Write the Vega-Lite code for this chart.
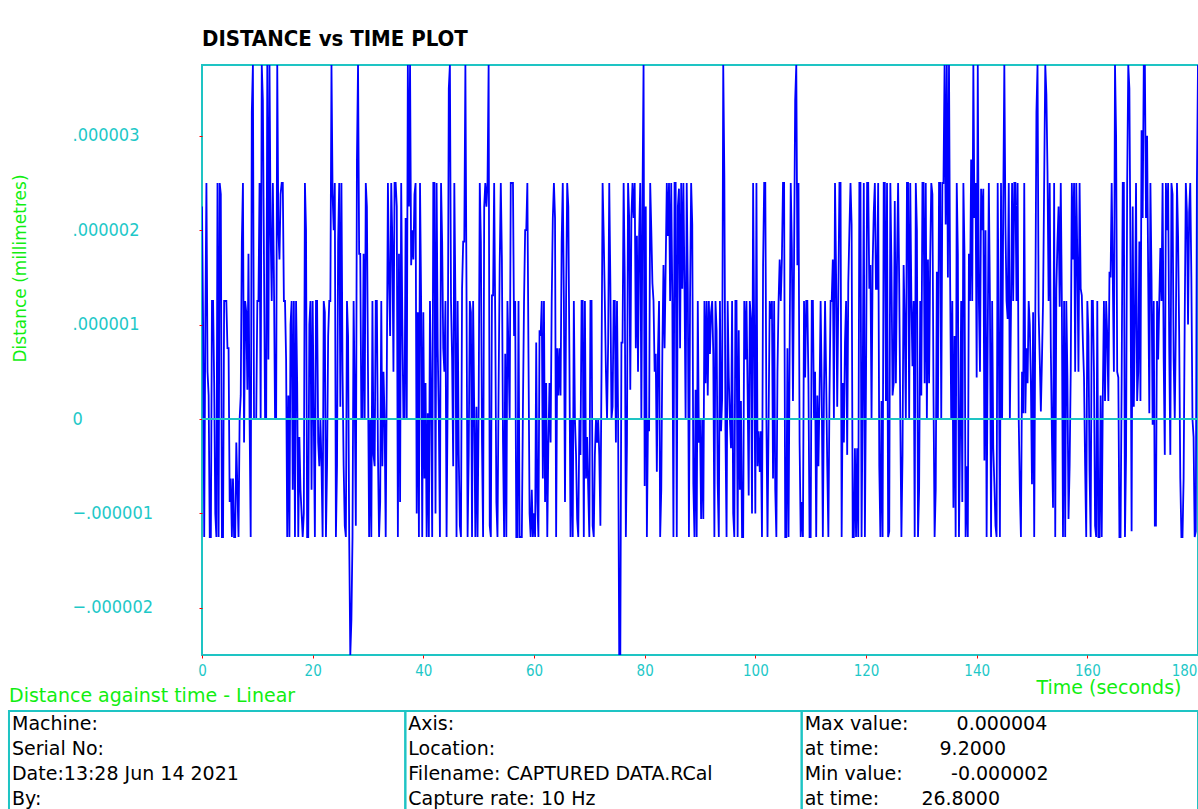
{
"$schema": "https://vega.github.io/schema/vega-lite/v6.json",
"background": "white",
"padding": {"left": 7, "top": 27, "right": 0, "bottom": 0},
"spacing": -11,
"config": {"view": {"stroke": null}, "font": "DejaVu Sans"},
"datasets": {"dist": [
{"t":0,"d":2.25e-6},{"t":0.2,"d":1e-6},{"t":0.4,"d":-1.25e-6},{"t":0.6,"d":1e-6},{"t":0.8,"d":2.5e-6},
{"t":1,"d":5e-7},{"t":1.2,"d":2.5e-7},{"t":1.4,"d":-1.25e-6},{"t":1.6,"d":-1.25e-6},{"t":1.8,"d":1.25e-6},
{"t":2,"d":1.25e-6},{"t":2.2,"d":3.8e-7},{"t":2.4,"d":-1e-6},{"t":2.6,"d":-1.25e-6},{"t":2.8,"d":2.5e-6},
{"t":3,"d":-1.25e-6},{"t":3.2,"d":2.5e-6},{"t":3.4,"d":2.38e-6},{"t":3.6,"d":-1.25e-6},{"t":3.8,"d":-1.25e-6},
{"t":4,"d":1.25e-6},{"t":4.2,"d":1.25e-6},{"t":4.4,"d":1.25e-6},{"t":4.6,"d":7.5e-7},{"t":4.8,"d":7.5e-7},
{"t":5,"d":-8.8e-7},{"t":5.2,"d":-6.3e-7},{"t":5.4,"d":-1.25e-6},{"t":5.6,"d":-6.3e-7},{"t":5.8,"d":-1.25e-6},
{"t":6,"d":-1.25e-6},{"t":6.2,"d":-2.5e-7},{"t":6.4,"d":-7.5e-7},{"t":6.6,"d":-1.25e-6},{"t":6.8,"d":0},
{"t":7,"d":2.5e-7},{"t":7.2,"d":1.88e-6},{"t":7.4,"d":2.5e-6},{"t":7.6,"d":-2.5e-7},{"t":7.8,"d":1.25e-6},
{"t":8,"d":1.13e-6},{"t":8.2,"d":3.1e-7},{"t":8.4,"d":1.75e-6},{"t":8.6,"d":0},{"t":8.8,"d":-1.25e-6},
{"t":9,"d":3.25e-6},{"t":9.2,"d":3.75e-6},{"t":9.4,"d":0},{"t":9.6,"d":0},{"t":9.8,"d":0},
{"t":10,"d":1.25e-6},{"t":10.2,"d":1.25e-6},{"t":10.4,"d":2.5e-6},{"t":10.6,"d":0},{"t":10.8,"d":3.75e-6},
{"t":11,"d":3.38e-6},{"t":11.2,"d":1.69e-6},{"t":11.4,"d":0},{"t":11.6,"d":0},{"t":11.8,"d":3.75e-6},
{"t":12,"d":6.3e-7},{"t":12.2,"d":3.75e-6},{"t":12.4,"d":2e-6},{"t":12.6,"d":1.25e-6},{"t":12.8,"d":2.5e-6},
{"t":13,"d":1.5e-6},{"t":13.2,"d":0},{"t":13.4,"d":0},{"t":13.6,"d":3.75e-6},{"t":13.8,"d":2e-6},
{"t":14,"d":1.69e-6},{"t":14.2,"d":2.38e-6},{"t":14.4,"d":2.5e-6},{"t":14.6,"d":2.5e-6},{"t":14.8,"d":1.25e-6},
{"t":15,"d":1.25e-6},{"t":15.2,"d":6.3e-7},{"t":15.4,"d":-1.25e-6},{"t":15.6,"d":2.5e-7},{"t":15.8,"d":-1.25e-6},
{"t":16,"d":1e-6},{"t":16.2,"d":1.25e-6},{"t":16.4,"d":-7.5e-7},{"t":16.6,"d":1.25e-6},{"t":16.8,"d":-1.25e-6},
{"t":17,"d":1.25e-6},{"t":17.2,"d":3.8e-7},{"t":17.4,"d":-1.25e-6},{"t":17.6,"d":-1.9e-7},{"t":17.8,"d":-7.5e-7},
{"t":18,"d":-1e-6},{"t":18.2,"d":-1.25e-6},{"t":18.4,"d":-1e-6},{"t":18.6,"d":2.5e-6},{"t":18.8,"d":2e-6},
{"t":19,"d":-1.25e-6},{"t":19.2,"d":-1.25e-6},{"t":19.4,"d":1e-6},{"t":19.6,"d":1.25e-6},{"t":19.8,"d":-7.5e-7},
{"t":20,"d":1.25e-6},{"t":20.2,"d":0},{"t":20.4,"d":-1.25e-6},{"t":20.6,"d":1.25e-6},{"t":20.8,"d":1.25e-6},
{"t":21,"d":-2.5e-7},{"t":21.2,"d":-5e-7},{"t":21.4,"d":0},{"t":21.6,"d":-5e-7},{"t":21.8,"d":-1.25e-6},
{"t":22,"d":1.25e-6},{"t":22.2,"d":1.13e-6},{"t":22.4,"d":-1.25e-6},{"t":22.6,"d":-5e-7},{"t":22.8,"d":8.8e-7},
{"t":23,"d":1.25e-6},{"t":23.2,"d":1.25e-6},{"t":23.4,"d":3.75e-6},{"t":23.6,"d":2.38e-6},{"t":23.8,"d":2e-6},
{"t":24,"d":2.5e-6},{"t":24.2,"d":-1.25e-6},{"t":24.4,"d":-5e-7},{"t":24.6,"d":1.88e-6},{"t":24.8,"d":2.5e-6},
{"t":25,"d":1.3e-7},{"t":25.2,"d":2.5e-6},{"t":25.4,"d":5e-7},{"t":25.6,"d":-5e-7},{"t":25.8,"d":-1.13e-6},
{"t":26,"d":-1.25e-6},{"t":26.2,"d":1.25e-6},{"t":26.4,"d":8.8e-7},{"t":26.6,"d":-1.25e-6},{"t":26.8,"d":-2.5e-6},
{"t":27,"d":-2.13e-6},{"t":27.2,"d":-1.25e-6},{"t":27.4,"d":1.25e-6},{"t":27.6,"d":2.5e-7},{"t":27.8,"d":-1.13e-6},
{"t":28,"d":2.75e-6},{"t":28.2,"d":3.75e-6},{"t":28.4,"d":1.75e-6},{"t":28.6,"d":1.75e-6},{"t":28.8,"d":0},
{"t":29,"d":0},{"t":29.2,"d":1.75e-6},{"t":29.4,"d":0},{"t":29.6,"d":2.5e-6},{"t":29.8,"d":2.25e-6},
{"t":30,"d":5e-7},{"t":30.2,"d":-1.25e-6},{"t":30.4,"d":0},{"t":30.6,"d":-1.25e-6},{"t":30.8,"d":1.25e-6},
{"t":31,"d":-3.8e-7},{"t":31.2,"d":-5e-7},{"t":31.4,"d":1.25e-6},{"t":31.6,"d":1.25e-6},{"t":31.8,"d":-3.8e-7},
{"t":32,"d":-1.25e-6},{"t":32.2,"d":-8.8e-7},{"t":32.4,"d":1.25e-6},{"t":32.6,"d":-5e-7},{"t":32.8,"d":5e-7},
{"t":33,"d":0},{"t":33.2,"d":-1.25e-6},{"t":33.4,"d":5e-7},{"t":33.6,"d":2.5e-6},{"t":33.8,"d":1.5e-6},
{"t":34,"d":8.8e-7},{"t":34.2,"d":2.5e-6},{"t":34.4,"d":1.88e-6},{"t":34.6,"d":5e-7},{"t":34.8,"d":2.5e-6},
{"t":35,"d":2.5e-6},{"t":35.2,"d":2.25e-6},{"t":35.4,"d":-1.25e-6},{"t":35.6,"d":1.75e-6},{"t":35.8,"d":-8.8e-7},
{"t":36,"d":2.5e-6},{"t":36.2,"d":1.06e-6},{"t":36.4,"d":0},{"t":36.6,"d":0},{"t":36.8,"d":2.13e-6},
{"t":37,"d":0},{"t":37.2,"d":3.75e-6},{"t":37.4,"d":2.25e-6},{"t":37.6,"d":3.75e-6},{"t":37.8,"d":1.63e-6},
{"t":38,"d":2e-6},{"t":38.2,"d":1.69e-6},{"t":38.4,"d":2.38e-6},{"t":38.6,"d":2.5e-6},{"t":38.8,"d":-1e-6},
{"t":39,"d":1.13e-6},{"t":39.2,"d":-1.25e-6},{"t":39.4,"d":2.5e-6},{"t":39.6,"d":1.25e-6},{"t":39.8,"d":-1.25e-6},
{"t":40,"d":1.13e-6},{"t":40.2,"d":-6.3e-7},{"t":40.4,"d":3.8e-7},{"t":40.6,"d":-1.25e-6},{"t":40.8,"d":6e-8},
{"t":41,"d":-1.25e-6},{"t":41.2,"d":1.25e-6},{"t":41.4,"d":2.5e-7},{"t":41.6,"d":-1.25e-6},{"t":41.8,"d":2.5e-6},
{"t":42,"d":2.5e-6},{"t":42.2,"d":-1e-6},{"t":42.4,"d":2.5e-6},{"t":42.6,"d":7.5e-7},{"t":42.8,"d":0},
{"t":43,"d":-1.25e-6},{"t":43.2,"d":2.5e-6},{"t":43.4,"d":1.88e-6},{"t":43.6,"d":7.5e-7},{"t":43.8,"d":5e-7},
{"t":44,"d":1.25e-6},{"t":44.2,"d":-1.25e-6},{"t":44.4,"d":2.5e-7},{"t":44.6,"d":3.5e-6},{"t":44.8,"d":3.75e-6},
{"t":45,"d":1.25e-6},{"t":45.2,"d":6.3e-7},{"t":45.4,"d":-5e-7},{"t":45.6,"d":2.5e-6},{"t":45.8,"d":1.25e-6},
{"t":46,"d":-1.25e-6},{"t":46.2,"d":1.25e-6},{"t":46.4,"d":-3.8e-7},{"t":46.6,"d":-1.13e-6},{"t":46.8,"d":-1.25e-6},
{"t":47,"d":1.38e-6},{"t":47.2,"d":1.88e-6},{"t":47.4,"d":1.88e-6},{"t":47.6,"d":3.75e-6},{"t":47.8,"d":1.38e-6},
{"t":48,"d":-1.25e-6},{"t":48.2,"d":-3.8e-7},{"t":48.4,"d":1.25e-6},{"t":48.6,"d":1.13e-6},{"t":48.8,"d":-1.25e-6},
{"t":49,"d":1.25e-6},{"t":49.2,"d":6e-8},{"t":49.4,"d":-1.25e-6},{"t":49.6,"d":1.3e-7},{"t":49.8,"d":-1.25e-6},
{"t":50,"d":1.3e-7},{"t":50.2,"d":2.5e-6},{"t":50.4,"d":1.88e-6},{"t":50.6,"d":-2.5e-7},{"t":50.8,"d":-1.25e-6},
{"t":51,"d":2.25e-6},{"t":51.2,"d":2.5e-6},{"t":51.4,"d":2.25e-6},{"t":51.6,"d":2.5e-6},{"t":51.8,"d":3.75e-6},
{"t":52,"d":-1.13e-6},{"t":52.2,"d":-1.25e-6},{"t":52.4,"d":1.31e-6},{"t":52.6,"d":1.31e-6},{"t":52.8,"d":2.5e-6},
{"t":53,"d":1e-6},{"t":53.2,"d":-8.8e-7},{"t":53.4,"d":-1.25e-6},{"t":53.6,"d":3.1e-7},{"t":53.8,"d":1.63e-6},
{"t":54,"d":2.5e-6},{"t":54.2,"d":1.69e-6},{"t":54.4,"d":-2.5e-7},{"t":54.6,"d":-1.25e-6},{"t":54.8,"d":6.9e-7},
{"t":55,"d":-1.25e-6},{"t":55.2,"d":1.25e-6},{"t":55.4,"d":6.9e-7},{"t":55.6,"d":0},{"t":55.8,"d":2.5e-6},
{"t":56,"d":2.5e-6},{"t":56.2,"d":2.5e-6},{"t":56.4,"d":8.8e-7},{"t":56.6,"d":1.25e-6},{"t":56.8,"d":-1.25e-6},
{"t":57,"d":-1.25e-6},{"t":57.2,"d":1.25e-6},{"t":57.4,"d":-1.25e-6},{"t":57.6,"d":-1.25e-6},{"t":57.8,"d":-1.25e-6},
{"t":58,"d":1.3e-7},{"t":58.2,"d":1.25e-6},{"t":58.4,"d":2e-6},{"t":58.6,"d":2e-6},{"t":58.8,"d":2.5e-6},
{"t":59,"d":6.9e-7},{"t":59.2,"d":-1e-6},{"t":59.4,"d":-1.25e-6},{"t":59.6,"d":-7.5e-7},{"t":59.8,"d":-1.25e-6},
{"t":60,"d":-1e-6},{"t":60.2,"d":-1.25e-6},{"t":60.4,"d":8.1e-7},{"t":60.6,"d":-8.8e-7},{"t":60.8,"d":-1.25e-6},
{"t":61,"d":9.4e-7},{"t":61.2,"d":8.8e-7},{"t":61.4,"d":1.25e-6},{"t":61.6,"d":-6.3e-7},{"t":61.8,"d":1.25e-6},
{"t":62,"d":-8.8e-7},{"t":62.2,"d":3.8e-7},{"t":62.4,"d":-1.25e-6},{"t":62.6,"d":-2.5e-7},{"t":62.8,"d":3.8e-7},
{"t":63,"d":-2.5e-7},{"t":63.2,"d":1.25e-6},{"t":63.4,"d":2.13e-6},{"t":63.6,"d":2.5e-6},{"t":63.8,"d":2.13e-6},
{"t":64,"d":-1.25e-6},{"t":64.2,"d":7.5e-7},{"t":64.4,"d":2.5e-7},{"t":64.6,"d":7.5e-7},{"t":64.8,"d":2.5e-7},
{"t":65,"d":1.88e-6},{"t":65.2,"d":2.5e-6},{"t":65.4,"d":1.25e-6},{"t":65.6,"d":-8.8e-7},{"t":65.8,"d":1.25e-6},
{"t":66,"d":2.5e-6},{"t":66.2,"d":2.25e-6},{"t":66.4,"d":6.3e-7},{"t":66.6,"d":-1.25e-6},{"t":66.8,"d":0},
{"t":67,"d":-1.25e-6},{"t":67.2,"d":1.25e-6},{"t":67.4,"d":0},{"t":67.6,"d":-3.8e-7},{"t":67.8,"d":-1.06e-6},
{"t":68,"d":-1.25e-6},{"t":68.2,"d":0},{"t":68.4,"d":-3.8e-7},{"t":68.6,"d":1.25e-6},{"t":68.8,"d":1.25e-6},
{"t":69,"d":-1.25e-6},{"t":69.2,"d":1.25e-6},{"t":69.4,"d":-6.3e-7},{"t":69.6,"d":-1.9e-7},{"t":69.8,"d":-7.5e-7},
{"t":70,"d":-1.25e-6},{"t":70.2,"d":1.25e-6},{"t":70.4,"d":1.25e-6},{"t":70.6,"d":-1.13e-6},{"t":70.8,"d":-1.25e-6},
{"t":71,"d":-3.8e-7},{"t":71.2,"d":0},{"t":71.4,"d":-2.5e-7},{"t":71.6,"d":0},{"t":71.8,"d":-3.8e-7},
{"t":72,"d":-1.13e-6},{"t":72.2,"d":5e-7},{"t":72.4,"d":2.5e-6},{"t":72.6,"d":1.94e-6},{"t":72.8,"d":1.25e-6},
{"t":73,"d":5e-7},{"t":73.2,"d":0},{"t":73.4,"d":8.1e-7},{"t":73.6,"d":2.5e-6},{"t":73.8,"d":1.44e-6},
{"t":74,"d":0},{"t":74.2,"d":1.3e-7},{"t":74.4,"d":1.25e-6},{"t":74.6,"d":1.25e-6},{"t":74.8,"d":-2.5e-7},
{"t":75,"d":1.25e-6},{"t":75.2,"d":0},{"t":75.4,"d":-2.5e-6},{"t":75.6,"d":-2.5e-6},{"t":75.8,"d":8.1e-7},
{"t":76,"d":8.1e-7},{"t":76.2,"d":2.5e-6},{"t":76.4,"d":1.5e-6},{"t":76.6,"d":-1.25e-6},{"t":76.8,"d":-2.5e-7},
{"t":77,"d":2.5e-6},{"t":77.2,"d":2.13e-6},{"t":77.4,"d":3.1e-7},{"t":77.6,"d":2.13e-6},{"t":77.8,"d":2.5e-6},
{"t":78,"d":2.13e-6},{"t":78.2,"d":2.5e-6},{"t":78.4,"d":7.5e-7},{"t":78.6,"d":1.94e-6},{"t":78.8,"d":5e-7},
{"t":79,"d":1.94e-6},{"t":79.2,"d":2.5e-6},{"t":79.4,"d":0},{"t":79.6,"d":2.25e-6},{"t":79.8,"d":3.75e-6},
{"t":80,"d":-7.1e-7},{"t":80.2,"d":2.25e-6},{"t":80.4,"d":-1.25e-6},{"t":80.6,"d":0},{"t":80.8,"d":-1.3e-7},
{"t":81,"d":2.5e-6},{"t":81.2,"d":2e-6},{"t":81.4,"d":1.44e-6},{"t":81.6,"d":1.25e-6},{"t":81.8,"d":5e-7},
{"t":82,"d":6.9e-7},{"t":82.2,"d":-5.6e-7},{"t":82.4,"d":6.9e-7},{"t":82.6,"d":1.25e-6},{"t":82.8,"d":-1.25e-6},
{"t":83,"d":-7.5e-7},{"t":83.2,"d":7.5e-7},{"t":83.4,"d":1.63e-6},{"t":83.6,"d":7.5e-7},{"t":83.8,"d":1.63e-6},
{"t":84,"d":2.5e-6},{"t":84.2,"d":1.94e-6},{"t":84.4,"d":2.5e-6},{"t":84.6,"d":1.25e-6},{"t":84.8,"d":2.5e-6},
{"t":85,"d":1.25e-6},{"t":85.2,"d":-1.25e-6},{"t":85.4,"d":2.5e-6},{"t":85.6,"d":2.5e-6},{"t":85.8,"d":-1.25e-6},
{"t":86,"d":2.25e-6},{"t":86.2,"d":2.44e-6},{"t":86.4,"d":7.5e-7},{"t":86.6,"d":2.5e-6},{"t":86.8,"d":1.38e-6},
{"t":87,"d":2.5e-6},{"t":87.2,"d":1.38e-6},{"t":87.4,"d":0},{"t":87.6,"d":2.5e-6},{"t":87.8,"d":1.38e-6},
{"t":88,"d":-1.25e-6},{"t":88.2,"d":1.25e-6},{"t":88.4,"d":2.5e-6},{"t":88.6,"d":2.06e-6},{"t":88.8,"d":-6.9e-7},
{"t":89,"d":-1.25e-6},{"t":89.2,"d":3.1e-7},{"t":89.4,"d":-1.25e-6},{"t":89.6,"d":1.25e-6},{"t":89.8,"d":-2.5e-7},
{"t":90,"d":0},{"t":90.2,"d":-1.06e-6},{"t":90.4,"d":0},{"t":90.6,"d":-1.06e-6},{"t":90.8,"d":1.25e-6},
{"t":91,"d":3.8e-7},{"t":91.2,"d":1.25e-6},{"t":91.4,"d":2.5e-7},{"t":91.6,"d":1.25e-6},{"t":91.8,"d":6.9e-7},
{"t":92,"d":1.13e-6},{"t":92.2,"d":1.25e-6},{"t":92.4,"d":6.9e-7},{"t":92.6,"d":-1.25e-6},{"t":92.8,"d":1.25e-6},
{"t":93,"d":9.4e-7},{"t":93.2,"d":-6.9e-7},{"t":93.4,"d":-1.25e-6},{"t":93.6,"d":1.25e-6},{"t":93.8,"d":-1.3e-7},
{"t":94,"d":2.1e-7},{"t":94.2,"d":3.75e-6},{"t":94.4,"d":2.56e-6},{"t":94.6,"d":-1.3e-7},{"t":94.8,"d":-1.25e-6},
{"t":95,"d":1.25e-6},{"t":95.2,"d":4.4e-7},{"t":95.4,"d":0},{"t":95.6,"d":-3.1e-7},{"t":95.8,"d":1.25e-6},
{"t":96,"d":-1e-6},{"t":96.2,"d":-1.25e-6},{"t":96.4,"d":1.25e-6},{"t":96.6,"d":1.25e-6},{"t":96.8,"d":-1.25e-6},
{"t":97,"d":9.4e-7},{"t":97.2,"d":-7.5e-7},{"t":97.4,"d":1.9e-7},{"t":97.6,"d":-1.25e-6},{"t":97.8,"d":-1.25e-6},
{"t":98,"d":1.25e-6},{"t":98.2,"d":6.3e-7},{"t":98.4,"d":1.25e-6},{"t":98.6,"d":3.1e-7},{"t":98.8,"d":-8.1e-7},
{"t":99,"d":1.25e-6},{"t":99.2,"d":1.06e-6},{"t":99.4,"d":-1e-6},{"t":99.6,"d":2.5e-6},{"t":99.8,"d":8.8e-7},
{"t":100,"d":-1e-6},{"t":100.2,"d":2.5e-6},{"t":100.4,"d":-5e-7},{"t":100.6,"d":-1.3e-7},{"t":100.8,"d":-5.6e-7},
{"t":101,"d":-1.3e-7},{"t":101.2,"d":-1.25e-6},{"t":101.4,"d":1.63e-6},{"t":101.6,"d":2.5e-6},{"t":101.8,"d":2.5e-6},
{"t":102,"d":0},{"t":102.2,"d":-1.25e-6},{"t":102.4,"d":0},{"t":102.6,"d":1.25e-6},{"t":102.8,"d":1.06e-6},
{"t":103,"d":1.25e-6},{"t":103.2,"d":-6.3e-7},{"t":103.4,"d":1.25e-6},{"t":103.6,"d":-7.5e-7},{"t":103.8,"d":-1.25e-6},
{"t":104,"d":5e-7},{"t":104.2,"d":1.25e-6},{"t":104.4,"d":1.69e-6},{"t":104.6,"d":1.25e-6},{"t":104.8,"d":1.69e-6},
{"t":105,"d":2.5e-6},{"t":105.2,"d":2.5e-6},{"t":105.4,"d":-1.25e-6},{"t":105.6,"d":-1.25e-6},{"t":105.8,"d":7.5e-7},
{"t":106,"d":-1.25e-6},{"t":106.2,"d":7.5e-7},{"t":106.4,"d":2.5e-6},{"t":106.6,"d":1.81e-6},{"t":106.8,"d":1.9e-7},
{"t":107,"d":1.69e-6},{"t":107.2,"d":3.38e-6},{"t":107.4,"d":3.75e-6},{"t":107.6,"d":1.63e-6},{"t":107.8,"d":2.5e-6},
{"t":108,"d":-2.5e-7},{"t":108.2,"d":-1.25e-6},{"t":108.4,"d":-8.8e-7},{"t":108.6,"d":-1.25e-6},{"t":108.8,"d":1.25e-6},
{"t":109,"d":4.4e-7},{"t":109.2,"d":1.25e-6},{"t":109.4,"d":1.25e-6},{"t":109.6,"d":3.8e-7},{"t":109.8,"d":-1.25e-6},
{"t":110,"d":-1.25e-6},{"t":110.2,"d":1.25e-6},{"t":110.4,"d":1.25e-6},{"t":110.6,"d":0},{"t":110.8,"d":5e-7},
{"t":111,"d":-1.25e-6},{"t":111.2,"d":2.5e-7},{"t":111.4,"d":-5e-7},{"t":111.6,"d":2.5e-7},{"t":111.8,"d":1.25e-6},
{"t":112,"d":3.1e-7},{"t":112.2,"d":-1.25e-6},{"t":112.4,"d":2.5e-7},{"t":112.6,"d":1.25e-6},{"t":112.8,"d":4.4e-7},
{"t":113,"d":-5e-7},{"t":113.2,"d":-1.25e-6},{"t":113.4,"d":2.5e-7},{"t":113.6,"d":1.25e-6},{"t":113.8,"d":1.25e-6},
{"t":114,"d":1.69e-6},{"t":114.2,"d":0},{"t":114.4,"d":2.5e-6},{"t":114.6,"d":1.5e-6},{"t":114.8,"d":1.3e-7},
{"t":115,"d":1.31e-6},{"t":115.2,"d":2.5e-6},{"t":115.4,"d":2.5e-6},{"t":115.6,"d":-1.25e-6},{"t":115.8,"d":3.8e-7},
{"t":116,"d":-2.5e-7},{"t":116.2,"d":8.1e-7},{"t":116.4,"d":1.25e-6},{"t":116.6,"d":-3.8e-7},{"t":116.8,"d":1.44e-6},
{"t":117,"d":2e-6},{"t":117.2,"d":2.5e-6},{"t":117.4,"d":2.06e-6},{"t":117.6,"d":-1.25e-6},{"t":117.8,"d":-1.25e-6},
{"t":118,"d":-3.1e-7},{"t":118.2,"d":-1.25e-6},{"t":118.4,"d":-3.1e-7},{"t":118.6,"d":-1.25e-6},{"t":118.8,"d":2.5e-6},
{"t":119,"d":2.5e-6},{"t":119.2,"d":-1.25e-6},{"t":119.4,"d":2.5e-7},{"t":119.6,"d":2.5e-6},{"t":119.8,"d":-1.25e-6},
{"t":120,"d":3.8e-7},{"t":120.2,"d":2.5e-6},{"t":120.4,"d":2.5e-6},{"t":120.6,"d":1.38e-6},{"t":120.8,"d":1.63e-6},
{"t":121,"d":0},{"t":121.2,"d":1.63e-6},{"t":121.4,"d":2.19e-6},{"t":121.6,"d":2.5e-6},{"t":121.8,"d":1.38e-6},
{"t":122,"d":1.38e-6},{"t":122.2,"d":2.5e-6},{"t":122.4,"d":-5e-7},{"t":122.6,"d":-1.25e-6},{"t":122.8,"d":1.9e-7},
{"t":123,"d":-1.25e-6},{"t":123.2,"d":2.5e-6},{"t":123.4,"d":2.5e-6},{"t":123.6,"d":1.9e-7},{"t":123.8,"d":2.5e-6},
{"t":124,"d":-1.25e-6},{"t":124.2,"d":-1.19e-6},{"t":124.4,"d":2.5e-6},{"t":124.6,"d":1.63e-6},{"t":124.8,"d":2.5e-7},
{"t":125,"d":3.8e-7},{"t":125.2,"d":2.31e-6},{"t":125.4,"d":3.8e-7},{"t":125.6,"d":1.63e-6},{"t":125.8,"d":2.5e-6},
{"t":126,"d":1.44e-6},{"t":126.2,"d":0},{"t":126.4,"d":-1.25e-6},{"t":126.6,"d":-3.8e-7},{"t":126.8,"d":1.63e-6},
{"t":127,"d":1e-6},{"t":127.2,"d":0},{"t":127.4,"d":2.5e-6},{"t":127.6,"d":2.5e-6},{"t":127.8,"d":0},
{"t":128,"d":2.5e-6},{"t":128.2,"d":1.25e-6},{"t":128.4,"d":5.6e-7},{"t":128.6,"d":1.25e-6},{"t":128.8,"d":-1.25e-6},
{"t":129,"d":2.5e-6},{"t":129.2,"d":2e-6},{"t":129.4,"d":-1.25e-6},{"t":129.6,"d":-7.5e-7},{"t":129.8,"d":1.25e-6},
{"t":130,"d":2.5e-7},{"t":130.2,"d":2.5e-6},{"t":130.4,"d":2.5e-6},{"t":130.6,"d":3.8e-7},{"t":130.8,"d":2.5e-6},
{"t":131,"d":0},{"t":131.2,"d":1.69e-6},{"t":131.4,"d":3.8e-7},{"t":131.6,"d":1.69e-6},{"t":131.8,"d":2.5e-6},
{"t":132,"d":2.38e-6},{"t":132.2,"d":2.5e-7},{"t":132.4,"d":-1.25e-6},{"t":132.6,"d":-7.5e-7},{"t":132.8,"d":1.56e-6},
{"t":133,"d":0},{"t":133.2,"d":2.5e-6},{"t":133.4,"d":2.5e-6},{"t":133.6,"d":0},{"t":133.8,"d":2.5e-6},
{"t":134,"d":2.5e-6},{"t":134.2,"d":3.75e-6},{"t":134.4,"d":2.06e-6},{"t":134.6,"d":3.75e-6},{"t":134.8,"d":1.5e-6},
{"t":135,"d":3.75e-6},{"t":135.2,"d":1.5e-6},{"t":135.4,"d":0},{"t":135.6,"d":1.25e-6},{"t":135.8,"d":-9.4e-7},
{"t":136,"d":8.8e-7},{"t":136.2,"d":-1.25e-6},{"t":136.4,"d":2.5e-6},{"t":136.6,"d":1.75e-6},{"t":136.8,"d":-1.25e-6},
{"t":137,"d":-1.9e-7},{"t":137.2,"d":1.25e-6},{"t":137.4,"d":-8.8e-7},{"t":137.6,"d":2.5e-6},{"t":137.8,"d":1.75e-6},
{"t":138,"d":-1.25e-6},{"t":138.2,"d":-5e-7},{"t":138.4,"d":-1.25e-6},{"t":138.6,"d":1.75e-6},{"t":138.8,"d":1.25e-6},
{"t":139,"d":2.75e-6},{"t":139.2,"d":1.25e-6},{"t":139.4,"d":3.75e-6},{"t":139.6,"d":2.13e-6},{"t":139.8,"d":2.5e-6},
{"t":140,"d":4.4e-7},{"t":140.2,"d":3.75e-6},{"t":140.4,"d":1.25e-6},{"t":140.6,"d":5e-7},{"t":140.8,"d":2.44e-6},
{"t":141,"d":2e-6},{"t":141.2,"d":2.44e-6},{"t":141.4,"d":-4.4e-7},{"t":141.6,"d":2e-6},{"t":141.8,"d":-1.25e-6},
{"t":142,"d":8.8e-7},{"t":142.2,"d":2.5e-6},{"t":142.4,"d":1.25e-6},{"t":142.6,"d":-1.25e-6},{"t":142.8,"d":1.25e-6},
{"t":143,"d":-3.1e-7},{"t":143.2,"d":-6.9e-7},{"t":143.4,"d":-1.13e-6},{"t":143.6,"d":-1.25e-6},{"t":143.8,"d":2.5e-6},
{"t":144,"d":8.1e-7},{"t":144.2,"d":-1.25e-6},{"t":144.4,"d":2.5e-6},{"t":144.6,"d":0},{"t":144.8,"d":2.25e-6},
{"t":145,"d":3.75e-6},{"t":145.2,"d":2.06e-6},{"t":145.4,"d":1.25e-6},{"t":145.6,"d":1.06e-6},{"t":145.8,"d":2.5e-6},
{"t":146,"d":0},{"t":146.2,"d":1.13e-6},{"t":146.4,"d":2.5e-6},{"t":146.6,"d":1.25e-6},{"t":146.8,"d":2.5e-6},
{"t":147,"d":2.5e-6},{"t":147.2,"d":1.25e-6},{"t":147.4,"d":2.5e-6},{"t":147.6,"d":0},{"t":147.8,"d":-7.5e-7},
{"t":148,"d":-1.25e-6},{"t":148.2,"d":5e-7},{"t":148.4,"d":6e-8},{"t":148.6,"d":2.5e-6},{"t":148.8,"d":6e-8},
{"t":149,"d":7.5e-7},{"t":149.2,"d":3.8e-7},{"t":149.4,"d":1.25e-6},{"t":149.6,"d":1e-6},{"t":149.8,"d":3.8e-7},
{"t":150,"d":-6.9e-7},{"t":150.2,"d":1.13e-6},{"t":150.4,"d":-1.25e-6},{"t":150.6,"d":1.13e-6},{"t":150.8,"d":3.25e-6},
{"t":151,"d":3.75e-6},{"t":151.2,"d":1.13e-6},{"t":151.4,"d":6.3e-7},{"t":151.6,"d":8e-8},{"t":151.8,"d":6.3e-7},
{"t":152,"d":1.25e-6},{"t":152.2,"d":2.5e-6},{"t":152.4,"d":3.75e-6},{"t":152.6,"d":3.44e-6},{"t":152.8,"d":2.63e-6},
{"t":153,"d":1.25e-6},{"t":153.2,"d":2.5e-6},{"t":153.4,"d":7.5e-7},{"t":153.6,"d":-1.9e-7},{"t":153.8,"d":-9.4e-7},
{"t":154,"d":2.5e-6},{"t":154.2,"d":-1.25e-6},{"t":154.4,"d":1.38e-6},{"t":154.6,"d":1.88e-6},{"t":154.8,"d":2.25e-6},
{"t":155,"d":1.19e-6},{"t":155.2,"d":2.5e-6},{"t":155.4,"d":1.19e-6},{"t":155.6,"d":-1.25e-6},{"t":155.8,"d":1.25e-6},
{"t":156,"d":-1.25e-6},{"t":156.2,"d":1.25e-6},{"t":156.4,"d":4.4e-7},{"t":156.6,"d":-1.06e-6},{"t":156.8,"d":-5e-7},
{"t":157,"d":5e-7},{"t":157.2,"d":2.5e-6},{"t":157.4,"d":1.69e-6},{"t":157.6,"d":2.5e-6},{"t":157.8,"d":5e-7},
{"t":158,"d":2.5e-6},{"t":158.2,"d":1.69e-6},{"t":158.4,"d":5e-7},{"t":158.6,"d":2.5e-6},{"t":158.8,"d":1.38e-6},
{"t":159,"d":1.31e-6},{"t":159.2,"d":8.1e-7},{"t":159.4,"d":4.4e-7},{"t":159.6,"d":-5e-7},{"t":159.8,"d":-1.25e-6},
{"t":160,"d":1.25e-6},{"t":160.2,"d":8.8e-7},{"t":160.4,"d":-5.6e-7},{"t":160.6,"d":-1.25e-6},{"t":160.8,"d":1.25e-6},
{"t":161,"d":1.25e-6},{"t":161.2,"d":5e-7},{"t":161.4,"d":-1.13e-6},{"t":161.6,"d":-1.25e-6},{"t":161.8,"d":1.25e-6},
{"t":162,"d":-1.25e-6},{"t":162.2,"d":-1.25e-6},{"t":162.4,"d":2.5e-7},{"t":162.6,"d":-1.25e-6},{"t":162.8,"d":2.5e-7},
{"t":163,"d":1.25e-6},{"t":163.2,"d":1.9e-7},{"t":163.4,"d":1.25e-6},{"t":163.6,"d":8.8e-7},{"t":163.8,"d":1.9e-7},
{"t":164,"d":1.56e-6},{"t":164.2,"d":1.5e-6},{"t":164.4,"d":2.5e-6},{"t":164.6,"d":1.5e-6},{"t":164.8,"d":5e-7},
{"t":165,"d":3.75e-6},{"t":165.2,"d":3e-6},{"t":165.4,"d":5e-7},{"t":165.6,"d":4.4e-7},{"t":165.8,"d":-1.25e-6},
{"t":166,"d":-1.25e-6},{"t":166.2,"d":3.8e-7},{"t":166.4,"d":2.5e-6},{"t":166.6,"d":2.5e-6},{"t":166.8,"d":-1.25e-6},
{"t":167,"d":-3.8e-7},{"t":167.2,"d":2.5e-6},{"t":167.4,"d":3.75e-6},{"t":167.6,"d":3.5e-6},{"t":167.8,"d":1.69e-6},
{"t":168,"d":-1.19e-6},{"t":168.2,"d":2.25e-6},{"t":168.4,"d":1.3e-7},{"t":168.6,"d":1e-6},{"t":168.8,"d":2.5e-6},
{"t":169,"d":1.9e-7},{"t":169.2,"d":5e-7},{"t":169.4,"d":1.88e-6},{"t":169.6,"d":1.9e-7},{"t":169.8,"d":3.06e-6},
{"t":170,"d":2.13e-6},{"t":170.2,"d":3.75e-6},{"t":170.4,"d":3.75e-6},{"t":170.6,"d":2.13e-6},{"t":170.8,"d":3e-6},
{"t":171,"d":1.5e-6},{"t":171.2,"d":6e-8},{"t":171.4,"d":2.5e-6},{"t":171.6,"d":1.5e-6},{"t":171.8,"d":-6e-8},
{"t":172,"d":1.25e-6},{"t":172.2,"d":-1.13e-6},{"t":172.4,"d":-1.13e-6},{"t":172.6,"d":1.25e-6},{"t":172.8,"d":6.3e-7},
{"t":173,"d":1.25e-6},{"t":173.2,"d":1.81e-6},{"t":173.4,"d":1.25e-6},{"t":173.6,"d":2.5e-6},{"t":173.8,"d":6.3e-7},
{"t":174,"d":-3.8e-7},{"t":174.2,"d":2.5e-6},{"t":174.4,"d":2e-6},{"t":174.6,"d":2.5e-6},{"t":174.8,"d":7.5e-7},
{"t":175,"d":-3.8e-7},{"t":175.2,"d":2.5e-6},{"t":175.4,"d":2.38e-6},{"t":175.6,"d":6.3e-7},{"t":175.8,"d":0},
{"t":176,"d":1e-6},{"t":176.2,"d":2.5e-6},{"t":176.4,"d":1.94e-6},{"t":176.6,"d":8.8e-7},{"t":176.8,"d":-6.3e-7},
{"t":177,"d":-1.25e-6},{"t":177.2,"d":-1.25e-6},{"t":177.4,"d":-6.3e-7},{"t":177.6,"d":1.06e-6},{"t":177.8,"d":2.5e-6},
{"t":178,"d":2.19e-6},{"t":178.2,"d":1e-6},{"t":178.4,"d":2.19e-6},{"t":178.6,"d":2.5e-6},{"t":178.8,"d":1.5e-6},
{"t":179,"d":0},{"t":179.2,"d":-1.9e-7},{"t":179.4,"d":-1.25e-6},{"t":179.6,"d":-1.19e-6},{"t":179.8,"d":2.5e-6},
{"t":180,"d":3.75e-6}
],
"cells": [
{"col":0,"row":1,"text":"Machine:"},
{"col":0,"row":2,"text":"Serial No:"},
{"col":0,"row":3,"text":"Date:13:28 Jun 14 2021"},
{"col":0,"row":4,"text":"By:"},
{"col":1,"row":1,"text":"Axis:"},
{"col":1,"row":2,"text":"Location:"},
{"col":1,"row":3,"text":"Filename: CAPTURED DATA.RCal"},
{"col":1,"row":4,"text":"Capture rate: 10 Hz"},
{"col":2,"row":1,"text":"Max value:\u00a0\u00a0\u00a0\u00a0\u00a0\u00a0\u00a0\u00a00.000004"},
{"col":2,"row":2,"text":"at time:\u00a0\u00a0\u00a0\u00a0\u00a0\u00a0\u00a0\u00a0\u00a0\u00a09.2000"},
{"col":2,"row":3,"text":"Min value:\u00a0\u00a0\u00a0\u00a0\u00a0\u00a0\u00a0\u00a0-0.000002"},
{"col":2,"row":4,"text":"at time:\u00a0\u00a0\u00a0\u00a0\u00a0\u00a0\u00a026.8000"}
],
"boxes": [{"c0":0,"c1":1},{"c0":1,"c1":2},{"c0":2,"c1":3}]
},
"vconcat": [
{
"width": 996,
"height": 590,
"title": {"text": "DISTANCE vs TIME PLOT", "anchor": "start", "frame": "group", "font": "DejaVu Sans Condensed", "fontSize": 22, "fontWeight": "bold", "color": "#000000", "baseline": "alphabetic", "offset": -3},
"view": {"stroke": "#1ec4c4", "strokeWidth": 2},
"data": {"name": "dist"},
"layer": [
{
"mark": {"type": "line", "color": "#0000ff", "strokeWidth": 1.8, "clip": true},
"encoding": {
"x": {"field": "t", "type": "quantitative",
"scale": {"domain": [0, 180], "nice": false, "zero": false},
"axis": {"values": [0,20,40,60,80,100,120,140,160,180], "grid": false, "domain": false,
"ticks": true, "tickColor": "#ff0000", "tickSize": 3,
"labelColor": "#1ec8c8", "labelFont": "DejaVu Sans Condensed", "labelFontSize": 15, "labelPadding": 5,
"labelFlush": false, "labelAlign": "center",
"labelOffset": {"condition": {"test": "datum.value == 180", "value": -14}, "value": 0},
"title": "Time (seconds)", "titleColor": "#11ee11", "titleFont": "DejaVu Sans", "titleFontSize": 19, "titleFontWeight": "normal",
"titleX": 979, "titleY": 32, "titleAlign": "right", "titleBaseline": "middle"}},
"y": {"field": "d", "type": "quantitative",
"scale": {"domain": [-2.5e-6, 3.75e-6], "nice": false, "zero": false},
"axis": {"values": [-2e-6,-1e-6,0,1e-6,2e-6,3e-6], "grid": false, "domain": false,
"ticks": true, "tickColor": "#ff0000", "tickSize": 3,
"labelExpr": "datum.value == 0 ? '\u00a00' : (datum.value > 0 ? '\u00a0' : '') + replace(format(datum.value, '.6f'), '0.', '.')",
"labelColor": "#1ec8c8", "labelFont": "DejaVu Sans Condensed", "labelFontSize": 18,
"labelAlign": "left", "labelBaseline": "middle", "labelPadding": 127,
"title": "Distance (millimetres)", "titleColor": "#11ee11", "titleFont": "DejaVu Sans", "titleFontSize": 17, "titleFontWeight": "normal",
"titleAngle": 270, "titleX": -177, "titleY": 203, "titleAlign": "center", "titleBaseline": "alphabetic"}}
}
},
{
"mark": {"type": "rule", "color": "#1ec4c4", "strokeWidth": 2},
"encoding": {"y": {"datum": 0, "type": "quantitative"}}
}
]
},
{
"width": 996,
"height": 100,
"title": {"text": "Distance against time - Linear", "anchor": "start", "frame": "group", "font": "DejaVu Sans", "fontSize": 19, "fontWeight": "normal", "color": "#11ee11", "offset": 4, "dx": -193},
"layer": [
{
"data": {"name": "boxes"},
"mark": {"type": "rect", "fill": null, "stroke": "#1ec4c4", "strokeWidth": 2, "clip": false},
"encoding": {
"x": {"field": "c0", "type": "quantitative", "scale": {"domain": [0.487, 3], "nice": false, "zero": false}, "axis": null},
"x2": {"field": "c1"}
}
},
{
"data": {"name": "cells"},
"mark": {"type": "text", "align": "left", "baseline": "middle", "dx": 3, "font": "DejaVu Sans", "fontSize": 19, "color": "#000000", "clip": false},
"encoding": {
"x": {"field": "col", "type": "quantitative", "axis": null},
"y": {"field": "row", "type": "ordinal", "scale": {"domain": [1,2,3,4], "paddingInner": 0, "paddingOuter": 0}, "axis": null},
"text": {"field": "text"}
}
}
]
}
]
}
